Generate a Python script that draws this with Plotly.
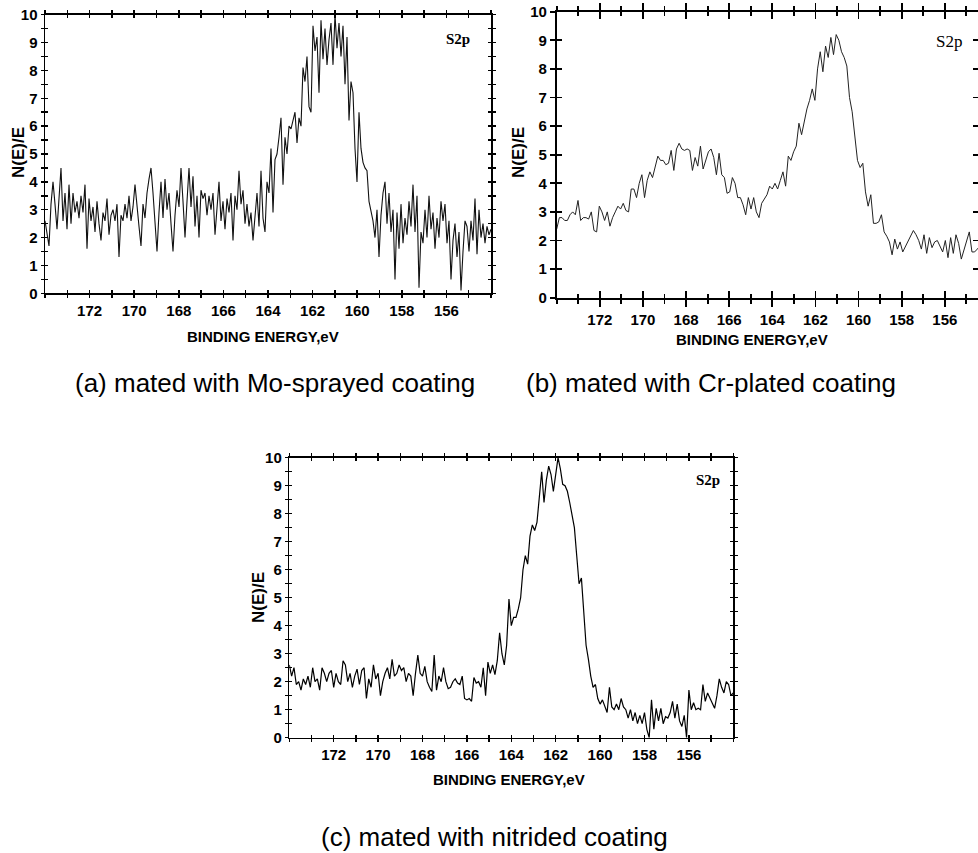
import numpy as np
import plotly.graph_objects as go

W, H = 978, 853

# ---------------- data ----------------
E_START, E_END = 174.0, 154.0
X_TICKS = [172, 170, 168, 166, 164, 162, 160, 158, 156]
Y_TICKS = [0, 1, 2, 3, 4, 5, 6, 7, 8, 9, 10]
X_TITLE = "BINDING ENERGY,eV"
Y_TITLE = "N(E)/E"
PEAK_LABEL = "S2p"
CAPTIONS = ["(a) mated with Mo-sprayed coating",
            "(b) mated with Cr-plated coating",
            "(c) mated with nitrided coating"]

COUNTS_A = [
    2.6, 2.2, 1.7, 3.2, 4.0, 3.2, 2.3, 3.4, 4.5, 2.6,
    3.6, 2.3, 3.9, 2.5, 3.6, 2.9, 3.3, 2.7, 3.5, 2.9,
    3.9, 1.6, 3.4, 2.6, 3.1, 2.2, 3.3, 2.5, 1.9, 2.9,
    2.6, 3.4, 2.1, 2.8, 3.0, 2.6, 3.2, 1.3, 2.8, 2.6,
    3.2, 2.7, 3.5, 2.6, 3.1, 3.9, 3.0, 2.4, 1.7, 3.2,
    2.7, 3.6, 4.1, 4.5, 3.6, 2.6, 1.5, 2.9, 4.0, 2.7,
    4.1, 3.0, 3.6, 2.5, 1.5, 2.8, 3.7, 3.1, 4.5, 3.3,
    2.0, 3.3, 4.5, 3.1, 4.2, 2.4, 3.5, 2.0, 3.7, 3.4,
    3.6, 2.8, 3.5, 3.0, 3.6, 2.1, 3.0, 4.0, 2.6, 3.3,
    2.3, 3.4, 2.9, 3.6, 1.9, 3.5, 3.0, 4.4, 3.2, 3.7,
    2.5, 3.2, 2.4, 2.9, 1.9, 2.7, 3.6, 2.4, 4.4, 2.7,
    2.2, 4.0, 3.6, 5.2, 2.9, 4.8, 5.0, 5.6, 6.3, 3.9,
    5.6, 5.0, 6.0, 5.9, 6.2, 6.5, 5.4, 6.3, 6.0, 8.1,
    7.6, 8.5, 6.7, 6.5, 9.6, 8.7, 9.2, 7.2, 9.8, 8.4,
    9.5, 8.2, 9.1, 9.7, 8.2, 10.0, 8.8, 9.7, 8.5, 9.6,
    7.5, 9.2, 6.2, 7.6, 7.2, 5.2, 4.0, 6.5, 5.2, 4.7,
    4.5, 4.4, 3.3, 3.0, 2.6, 2.0, 3.0, 1.3, 2.8, 3.6,
    4.0, 2.5, 3.6, 2.2, 3.0, 0.5, 2.9, 1.6, 3.2, 1.8,
    2.7, 2.1, 3.3, 2.4, 3.9, 2.2, 3.5, 0.2, 2.2, 1.8,
    3.0, 2.0, 3.5, 2.3, 2.9, 1.6, 2.7, 2.0, 3.3, 2.6,
    3.2, 1.8, 2.6, 0.5, 1.9, 2.5, 1.3, 2.2, 0.1, 1.5,
    2.6, 2.4, 1.5, 2.6, 1.9, 3.4, 1.4, 3.0, 2.0, 2.5,
    1.8, 2.4, 2.1, 2.3,
]

COUNTS_B = [
    2.4, 2.8, 2.8, 2.7, 2.7, 2.9, 3.0, 2.9, 3.4, 2.7,
    2.8, 2.8, 2.75, 3.0, 2.35, 2.3, 3.2, 3.0, 2.7, 3.0,
    2.5, 2.8, 3.0, 3.2, 3.1, 3.3, 3.05, 3.0, 3.8, 3.8,
    3.5, 4.0, 4.3, 3.5, 4.1, 4.4, 4.2, 4.6, 4.95, 4.8,
    4.8, 4.65, 4.7, 5.15, 4.45, 5.2, 5.4, 5.2, 5.15, 5.2,
    5.15, 4.45, 4.9, 4.6, 5.3, 4.5, 4.8, 5.1, 5.2, 4.9,
    4.3, 5.05, 4.3, 4.2, 3.65, 3.7, 4.2, 4.0, 3.5, 3.5,
    3.25, 2.9, 3.5, 3.1, 3.5, 3.0, 2.8, 3.3, 3.45, 3.6,
    3.9, 3.8, 4.0, 3.8, 4.1, 4.4, 3.9, 4.95, 4.8, 5.1,
    5.3, 6.1, 5.7, 6.2, 6.6, 6.9, 7.3, 6.9, 8.0, 8.6,
    7.9, 8.8, 8.4, 9.1, 8.5, 9.2, 9.0, 8.6, 8.4, 8.1,
    7.0, 6.5, 5.6, 4.8, 4.55, 4.7, 3.7, 3.2, 3.6, 2.6,
    2.6, 2.65, 2.9, 2.3, 2.15, 1.95, 1.5, 2.05, 1.7, 1.95,
    1.6, 1.8, 1.95, 2.15, 2.35, 2.2, 2.0, 1.7, 2.2, 1.55,
    2.1, 1.75, 1.95, 2.0, 1.8, 1.6, 2.0, 1.4, 2.1, 1.55,
    2.2, 1.9, 1.35, 1.7, 1.95, 2.3, 1.6, 1.6, 1.7, 1.8,
    1.7, 1.9, 1.8,
]

COUNTS_C = [
    2.6, 2.2, 2.5, 1.9, 2.0, 1.7, 2.1, 1.9, 2.2, 1.8,
    2.5, 2.0, 2.1, 1.7, 2.5, 2.3, 2.0, 2.3, 2.4, 1.8,
    2.3, 2.0, 1.9, 2.75, 2.6, 2.0, 2.3, 1.8, 2.2, 2.45,
    1.9, 2.4, 2.5, 1.4, 2.1, 1.8, 2.6, 2.1, 2.3, 1.5,
    2.0, 2.3, 2.5, 2.1, 2.8, 2.2, 2.3, 2.6, 2.4, 2.5,
    2.0, 2.3, 2.2, 1.5, 2.3, 2.95, 2.3, 2.2, 2.55, 2.0,
    1.8, 1.65, 2.95, 1.7, 2.2, 2.0, 2.5, 2.0, 1.75, 1.8,
    2.0, 2.1, 1.95, 1.9, 2.2, 1.4, 1.35, 1.4, 1.3, 2.15,
    1.95, 2.0, 1.8, 2.5, 1.5, 2.7, 2.3, 2.6, 2.25, 2.75,
    3.75, 3.0, 2.6, 3.3, 4.95, 4.0, 4.3, 4.3, 4.6, 5.0,
    6.0, 6.5, 6.2, 7.2, 7.6, 7.4, 7.7, 8.5, 9.5, 8.4,
    9.2, 9.7, 9.4, 8.8, 9.5, 10.0, 9.6, 9.05, 9.0, 8.8,
    8.4, 7.9, 7.5, 6.5, 5.5, 5.7, 4.3, 3.3, 2.8, 2.2,
    1.8, 1.9, 1.4, 1.2, 1.35, 1.1, 0.9, 1.8, 1.1, 1.0,
    1.2, 1.0, 1.4, 1.1, 1.0, 0.7, 1.0, 0.6, 0.9, 0.5,
    0.8, 0.5, 0.9, 0.3, 0.0, 1.35, 0.3, 1.05, 0.6, 1.05,
    0.5, 0.75, 0.7, 0.9, 1.3, 0.7, 1.2, 0.6, 0.4, 0.8,
    0.0, 1.7, 1.0, 1.25, 1.0, 1.05, 1.0, 1.9, 1.3, 1.6,
    1.4, 1.2, 1.05, 1.5, 2.1, 1.8, 1.6, 2.0, 1.9, 1.5,
    1.6,
]

# ---------------- layout helpers ----------------
def fx(p):
    return p / W


def fy(p):
    return 1 - p / H


SANS = "Liberation Sans, Arial, Helvetica, sans-serif"
SERIF = "Liberation Serif, Times New Roman, serif"
TICKFONT = dict(family=SANS, size=15, color="black")

panels = [
    dict(counts=COUNTS_A, xpx=(45, 491), ypx=(14.7, 293.3), xr=[174, 154],
         maj=3, mnr=3, ymaj=3, yminor=0.5, lw=1.5, color="#111111", width=1.1,
         ytitle=(18, 153), xtitle=(263, 336), cap=(275, 383), s2p=(458, 39),
         s2p_font=dict(family=SERIF, size=15, color="black", weight="bold")),
    dict(counts=COUNTS_B, xpx=(556.7, 978), ypx=(11.7, 297.7), xr=[174, 154.46],
         maj=7, mnr=4, ymaj=5, yminor=None, lw=1.8, color="#222222", width=1.0,
         ytitle=(518, 153), xtitle=(752, 339), cap=(711, 383), s2p=(949, 42),
         s2p_font=dict(family=SERIF, size=17, color="black")),
    dict(counts=COUNTS_C, xpx=(289.3, 733.3), ypx=(457.7, 737.7), xr=[174, 154],
         maj=3, mnr=3, ymaj=3, yminor=0.5, lw=1.5, color="#000000", width=1.2,
         ytitle=(258, 598), xtitle=(509, 779), cap=(494, 837), s2p=(708, 480),
         s2p_font=dict(family=SERIF, size=15, color="black", weight="bold")),
]


def nm(i):
    return "" if i == 1 else str(i)


fig = go.Figure()
layout = dict(width=W, height=H, margin=dict(l=0, r=0, t=0, b=0, autoexpand=False),
              paper_bgcolor="white", plot_bgcolor="white", showlegend=False)
annotations = []

for k, p in enumerate(panels):
    i = k + 1
    o = k + 4
    energy = np.linspace(E_START, E_END, len(p["counts"]))
    fig.add_trace(go.Scatter(x=energy, y=p["counts"], mode="lines",
                             line=dict(color=p["color"], width=p["width"]),
                             xaxis="x" + nm(i), yaxis="y" + nm(i),
                             hoverinfo="skip"))
    fig.add_trace(go.Scatter(x=[], y=[], mode="lines",
                             xaxis="x" + nm(o), yaxis="y" + nm(o),
                             hoverinfo="skip"))

    xdom = [fx(p["xpx"][0]), fx(p["xpx"][1])]
    ydom = [fy(p["ypx"][1]), fy(p["ypx"][0])]
    common = dict(showgrid=False, zeroline=False, showline=True, automargin=False,
                  linecolor="black", linewidth=p["lw"], tickcolor="black",
                  tickwidth=p["lw"], mirror="allticks")

    def xax(ticks, labels, overlay):
        d = dict(common, range=p["xr"], tickmode="array", tickvals=X_TICKS,
                 ticktext=["<b>%d</b>" % v for v in X_TICKS], ticks=ticks,
                 ticklen=p["maj"], showticklabels=labels, tickfont=TICKFONT,
                 minor=dict(dtick=1, tick0=0, ticks=ticks, ticklen=p["mnr"],
                            tickwidth=p["lw"], tickcolor="black", showgrid=False))
        if overlay:
            d.update(overlaying="x" + nm(i), anchor="y" + nm(i))
        else:
            d.update(domain=xdom, anchor="y" + nm(i))
        return d

    def yax(ticks, labels, overlay):
        d = dict(common, range=[0, 10], tickmode="array", tickvals=Y_TICKS,
                 ticktext=["<b>%d</b>" % v for v in Y_TICKS], ticks=ticks,
                 ticklen=p["ymaj"], showticklabels=labels, tickfont=TICKFONT)
        if p["yminor"]:
            d["minor"] = dict(dtick=p["yminor"], tick0=0, ticks=ticks,
                              ticklen=p["ymaj"], tickwidth=p["lw"],
                              tickcolor="black", showgrid=False)
        if overlay:
            d.update(overlaying="y" + nm(i), anchor="x" + nm(i))
        else:
            d.update(domain=ydom, anchor="x" + nm(i))
        return d

    layout["xaxis" + nm(i)] = xax("outside", True, False)
    layout["yaxis" + nm(i)] = yax("outside", True, False)
    layout["xaxis" + nm(o)] = xax("inside", False, True)
    layout["yaxis" + nm(o)] = yax("inside", False, True)

    annotations.append(dict(text="<b>%s</b>" % Y_TITLE, x=fx(p["ytitle"][0]), y=fy(p["ytitle"][1]),
                            xref="paper", yref="paper", showarrow=False, textangle=-90,
                            xanchor="center", yanchor="middle",
                            font=dict(family=SANS, size=17, color="black")))
    annotations.append(dict(text="<b>%s</b>" % X_TITLE, x=fx(p["xtitle"][0]), y=fy(p["xtitle"][1]),
                            xref="paper", yref="paper", showarrow=False,
                            xanchor="center", yanchor="middle",
                            font=dict(family=SANS, size=15, color="black")))
    annotations.append(dict(text=CAPTIONS[k], x=fx(p["cap"][0]), y=fy(p["cap"][1]),
                            xref="paper", yref="paper", showarrow=False,
                            xanchor="center", yanchor="middle",
                            font=dict(family=SANS, size=26, color="black")))
    annotations.append(dict(text=PEAK_LABEL, x=fx(p["s2p"][0]), y=fy(p["s2p"][1]),
                            xref="paper", yref="paper", showarrow=False,
                            xanchor="center", yanchor="middle", font=p["s2p_font"]))

layout["annotations"] = annotations
fig.update_layout(**layout)
fig.write_html("out.html",
               config={"displayModeBar": False, "staticPlot": True},
               post_script="document.body.style.margin='0';"
                           "document.body.style.overflow='hidden';")
